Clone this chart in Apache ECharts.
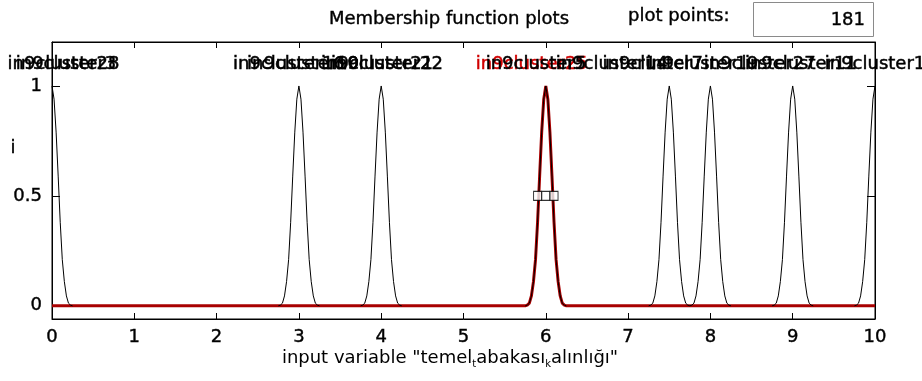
<!DOCTYPE html>
<html>
<head>
<meta charset="utf-8">
<script src="https://cdn.jsdelivr.net/npm/echarts@6/dist/echarts.min.js"></script>
<style>
html,body{margin:0;padding:0;background:#fff;}
#c{width:922px;height:381px;}
</style>
</head>
<body>
<div id="c"></div>
<script>
// ---- data ----
const mfCenters = [0, 3, 4, 6, 7.5, 8, 9, 10];
const selectedCenter = 6;
const profileOffsets = [-0.25, -0.225, -0.2, -0.175, -0.15, -0.125, -0.1, -0.075, -0.05, -0.025, 0, 0.025, 0.05, 0.075, 0.1, 0.125, 0.15, 0.175, 0.2, 0.225, 0.25];
const profileValues  = [0, 0.003, 0.012, 0.045, 0.11, 0.21, 0.38, 0.59, 0.79, 0.94, 1, 0.94, 0.79, 0.59, 0.38, 0.21, 0.11, 0.045, 0.012, 0.003, 0];
const xTicks = [0,1,2,3,4,5,6,7,8,9,10];
const yTicks = [0, 0.5, 1];
const labelNames = ['in9cluster28','in9cluster3','in9cluster16','in9cluster10','in9cluster21','in9cluster22','in9cluster25','in9cluster5','in9cluster14','in9cluster7','in9cluster19','in9cluster27','in9cluster11','in9cluster1'];
const labelX =     [0.14, 0.17, 2.88, 3.05, 3.95, 4.07, 5.83, 5.88, 6.8, 7.3, 7.9, 8.6, 9.1, 10];
const labelY = 1.1;
const labelIsSelected = [false,false,false,false,false,false,true,false,false,false,false,false,false,false];
const handleX = [5.9, 6, 6.1];
const handleY = [0.5, 0.5, 0.5];
const plotPoints = '181';

const FONT = 'DejaVu Sans';
const RED = '#a80000';
const LABEL_RED = '#d00000';

// full-range curve (selected MF) and bump-only curves (others)
function mfPoints(c, full){
  const pts = [];
  if (full && c + profileOffsets[0] > 0) pts.push([0, 0]);
  for (let i = 0; i < profileOffsets.length; i++){
    const x = c + profileOffsets[i];
    if (x >= 0 && x <= 10) pts.push([x, profileValues[i]]);
  }
  if (full && c + profileOffsets[profileOffsets.length-1] < 10) pts.push([10, 0]);
  return pts;
}

const series = [];
series.push({
  type:'line', data: mfPoints(selectedCenter, true), showSymbol:false, symbol:'none',
  lineStyle:{color:RED, width:3}, z:2, animation:false
});
mfCenters.forEach(c=>{
  series.push({
    type:'line', data: mfPoints(c, false), showSymbol:false, symbol:'none',
    lineStyle:{color:'#000', width:1}, z:3, animation:false
  });
});
series.push({
  type:'scatter', data: handleX.map((x,i)=>[x, handleY[i]]), symbol:'rect', symbolSize:[8,9],
  itemStyle:{color:'#fff', borderColor:'#000', borderWidth:1}, z:6, animation:false
});

const txt = (o)=>Object.assign({fontFamily:FONT, fontSize:18, fill:'#000', stroke:'#000', lineWidth:0.4}, o);

const chart = echarts.init(document.getElementById('c'), null, {renderer:'canvas'});
const baseGraphic = [
  {type:'text', x:449, y:19, style:txt({text:'Membership function plots', align:'center', verticalAlign:'middle'})},
  {type:'text', x:628, y:16, style:txt({text:'plot points:', align:'left', verticalAlign:'middle'})},
  {type:'rect', shape:{x:753.5, y:2.5, width:120, height:34}, style:{fill:'#fff', stroke:'#8a8a8a', lineWidth:1}},
  {type:'text', x:865, y:20, style:txt({text:plotPoints, align:'right', verticalAlign:'middle'})},
  {type:'text', x:13, y:148, style:txt({text:'i', align:'center', verticalAlign:'middle'})},
  {type:'text', x:450, y:358, style:{
    text:'{n|input variable "temel}{s|t}{n|abakası}{s|k}{n|alınlığı"}',
    align:'center', verticalAlign:'middle', fill:'#000',
    rich:{
      n:{fontFamily:FONT, fontSize:18, fill:'#000', textStroke:'#000', textStrokeWidth:0.4, lineHeight:22},
      s:{fontFamily:FONT, fontSize:10, fill:'#000', lineHeight:22, padding:[13,0,0,0]}
    }
  }}
];
chart.setOption({
  backgroundColor:'#fff',
  animation:false,
  grid:{left:52, right:47, top:42, bottom:62, show:true, borderColor:'#000', borderWidth:1, backgroundColor:'#fff'},
  xAxis:[{
    type:'value', min:0, max:10, interval:1, position:'bottom',
    axisLine:{show:true, onZero:false, lineStyle:{color:'#000'}},
    axisTick:{show:true, inside:true, length:6, lineStyle:{color:'#000'}},
    axisLabel:{show:true, margin:9, fontFamily:FONT, fontSize:18, color:'#000', textBorderColor:'#000', textBorderWidth:0.4, customValues:xTicks},
    splitLine:{show:false}
  },{
    type:'value', min:0, max:10, interval:1, position:'top',
    axisLine:{show:true, onZero:false, lineStyle:{color:'#000'}},
    axisTick:{show:true, inside:true, length:6, lineStyle:{color:'#000'}},
    axisLabel:{show:false}, splitLine:{show:false}
  }],
  yAxis:[{
    type:'value', min:-0.06, max:1.2, position:'left',
    axisLine:{show:true, onZero:false, lineStyle:{color:'#000'}},
    axisTick:{show:true, inside:true, length:8, lineStyle:{color:'#000'}, customValues:yTicks},
    axisLabel:{show:true, margin:10, fontFamily:FONT, fontSize:18, color:'#000', textBorderColor:'#000', textBorderWidth:0.4, customValues:yTicks},
    splitLine:{show:false}
  },{
    type:'value', min:-0.06, max:1.2, position:'right',
    axisLine:{show:true, onZero:false, lineStyle:{color:'#000'}},
    axisTick:{show:true, inside:true, length:8, lineStyle:{color:'#000'}, customValues:yTicks},
    axisLabel:{show:false}, splitLine:{show:false}
  }],
  series: series,
  graphic: baseGraphic
});

// MF name labels placed through the axes' scales
const labelGraphic = labelNames.map((n,i)=>{
  const p = chart.convertToPixel({xAxisIndex:0, yAxisIndex:0}, [labelX[i], labelY]);
  const col = labelIsSelected[i] ? LABEL_RED : '#000';
  return {type:'text', x:p[0], y:p[1], z: labelIsSelected[i] ? 10 : 11,
    style:{text:n, fontFamily:FONT, fontSize:18, fill:col, stroke:col, lineWidth:0.5, align:'center', verticalAlign:'middle'}};
});
chart.setOption({graphic: baseGraphic.concat(labelGraphic)}, {replaceMerge:['graphic']});
</script>
</body>
</html>
